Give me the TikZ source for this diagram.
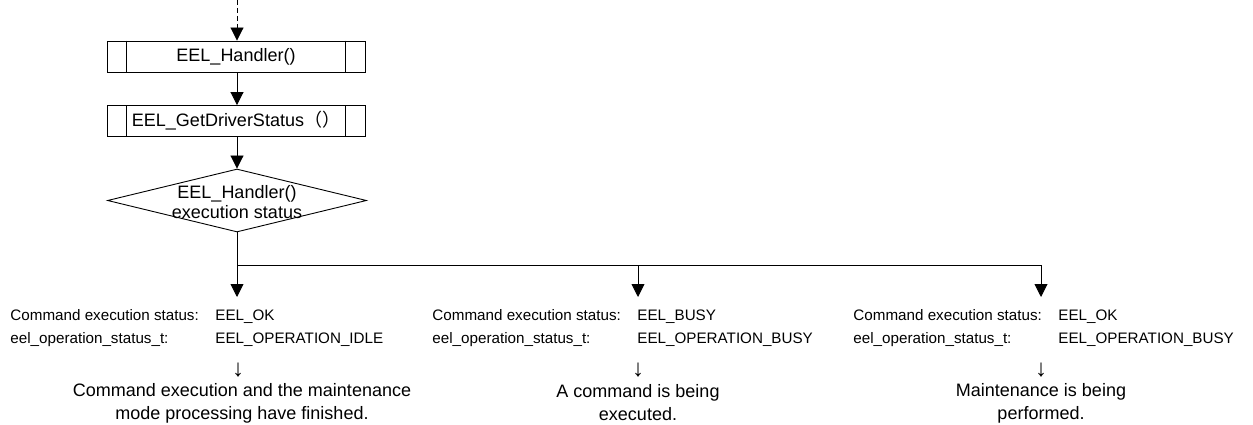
\documentclass[tikz,border=0pt]{standalone}
\usepackage{fontspec}
\setmainfont{Liberation Sans}
\newfontfamily\cjkfont{Noto Sans CJK JP}
\usetikzlibrary{arrows.meta,shapes.geometric,calc}

\begin{document}
\begin{tikzpicture}[x=1pt,y=-1pt,
  line width=0.9pt,
  flow/.style={-{Triangle[length=13pt,width=13pt]}},
  procbox/.style={draw,rectangle,minimum width=258pt,minimum height=31pt,inner sep=0pt,
    font=\fontsize{18}{21}\selectfont},
  decision/.style={draw,diamond,minimum width=259pt,minimum height=63pt,inner sep=0pt},
  dectxt/.style={align=center,font=\fontsize{18}{20}\selectfont,inner sep=0pt},
  small/.style={anchor=base west,inner sep=0pt,font=\fontsize{15.2}{18}\selectfont},
  result/.style={align=center,inner sep=0pt,font=\fontsize{18}{23}\selectfont},
  thinarrow/.style={inner sep=0pt,font=\fontsize{24}{26}\selectfont}]

\useasboundingbox (0,0) rectangle (1253,425);

% predefined-process boxes
\node[procbox] (h) at (236,56.5) {EEL\_Handler()};
\node[procbox] (g) at (236,121) {EEL\_GetDriverStatus{\cjkfont （）}};
\foreach \b in {h,g}{
  \draw ($(\b.north west)+(20,0)$) -- ($(\b.south west)+(20,0)$);
  \draw ($(\b.north east)+(-20,0)$) -- ($(\b.south east)+(-20,0)$);
}

% decision
\node[decision] (d) at (237,200.5) {};
\node[dectxt] (dt) at (237,202) {EEL\_Handler()\\execution status};

% connector points
\coordinate (start) at (237,0);
\coordinate (j1) at (237,265);
\coordinate (j2) at (638,265);
\coordinate (j3) at (1041,265);
\coordinate (e1) at (237,297);
\coordinate (e2) at (638,297);
\coordinate (e3) at (1041,297);

\draw[flow,dash pattern=on 5pt off 3pt] (start) -- (h.north -| start);
\draw[flow] (h.south -| start) -- (g.north -| start);
\draw[flow] (g.south -| start) -- (d.north);
\draw (d.south) -- (j1) -- (j3);
\draw[flow] (j1) -- (e1);
\draw[flow] (j2) -- (e2);
\draw[flow] (j3) -- (e3);

% branch 1
\node[small] (a1) at (10,320) {Command execution status:};
\node[small] (a1v) at (215,320) {EEL\_OK};
\node[small] (b1) at (10,343) {eel\_operation\_status\_t:};
\node[small] (b1v) at (215,343) {EEL\_OPERATION\_IDLE};
\node[thinarrow] (r1) at (238,370) {↓};
\node[result] (t1) at (242,403) {Command execution and the maintenance\\mode processing have finished.};

% branch 2
\node[small] (a2) at (432,320) {Command execution status:};
\node[small] (a2v) at (637,320) {EEL\_BUSY};
\node[small] (b2) at (432,343) {eel\_operation\_status\_t:};
\node[small] (b2v) at (637,343) {EEL\_OPERATION\_BUSY};
\node[thinarrow] (r2) at (638,370) {↓};
\node[result] (t2) at (638,403) {A command is being\\executed.};

% branch 3
\node[small] (a3) at (853,320) {Command execution status:};
\node[small] (a3v) at (1058,320) {EEL\_OK};
\node[small] (b3) at (853,343) {eel\_operation\_status\_t:};
\node[small] (b3v) at (1058,343) {EEL\_OPERATION\_BUSY};
\node[thinarrow] (r3) at (1041,370) {↓};
\node[result] (t3) at (1041,403) {Maintenance is being\\performed.};

\end{tikzpicture}
\end{document}
